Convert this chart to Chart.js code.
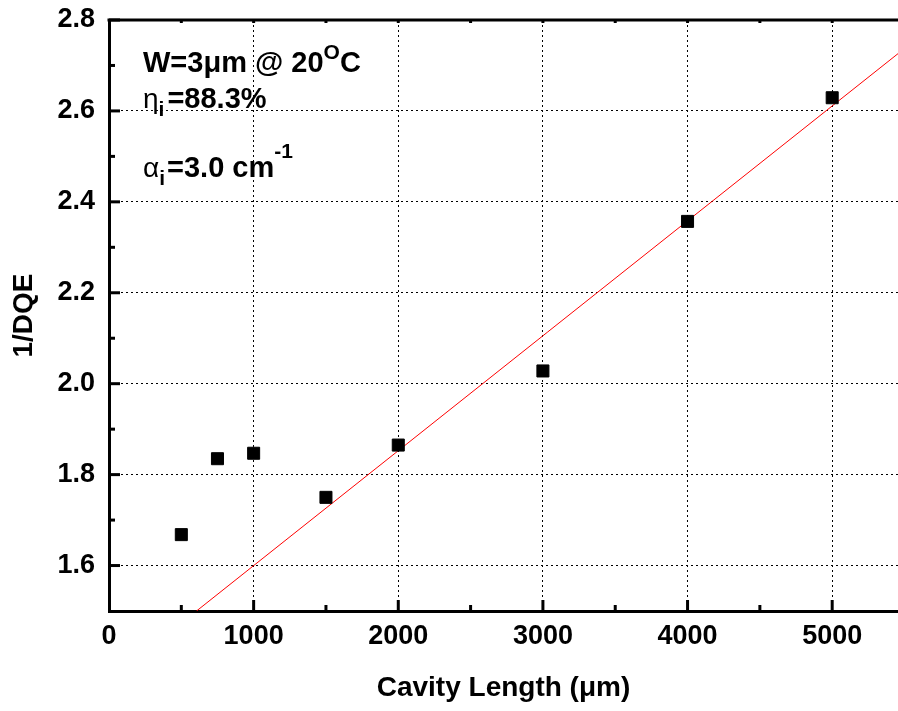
<!DOCTYPE html>
<html>
<head>
<meta charset="utf-8">
<script src="https://cdn.jsdelivr.net/npm/chart.js@4/dist/chart.umd.min.js"></script>
<style>
  html, body { margin: 0; padding: 0; background: #fff; }
  canvas { display: block; }
</style>
</head>
<body>
<canvas id="chart" width="898" height="711"></canvas>
<script>
// measured points (cavity length in um, 1/DQE)
const cavityLength = [500, 750, 1000, 1500, 2000, 3000, 4000, 5000];
const invDQE = [1.668, 1.835, 1.847, 1.75, 1.865, 2.028, 2.357, 2.629];

// linear fit, end points
const fitX = [605, 5455];
const fitY = [1.5, 2.726];

const xTicks = [0, 1000, 2000, 3000, 4000, 5000];
const xMinorTicks = [500, 1500, 2500, 3500, 4500];
const yTicks = [1.6, 1.8, 2.0, 2.2, 2.4, 2.6, 2.8];
const yMinorTicks = [1.7, 1.9, 2.1, 2.3, 2.5, 2.7];

const FONT = '"Liberation Sans", Arial, sans-serif';

// inward tick marks, top frame line and the text block
const framePlugin = {
  id: 'frame',
  afterDraw(chart) {
    const { ctx, chartArea: a, scales } = chart;
    const x = scales.x, y = scales.y;
    ctx.save();
    ctx.strokeStyle = '#000';
    ctx.lineWidth = 3;
    ctx.lineCap = 'butt';

    // top frame
    ctx.beginPath();
    ctx.moveTo(a.left - 1.5, a.top);
    ctx.lineTo(a.right, a.top);
    ctx.stroke();

    const tick = (x1, y1, x2, y2) => {
      ctx.beginPath(); ctx.moveTo(x1, y1); ctx.lineTo(x2, y2); ctx.stroke();
    };
    xTicks.slice(1).forEach(v => {
      const px = x.getPixelForValue(v);
      tick(px, a.bottom, px, a.bottom - 11);
      tick(px, a.top, px, a.top + 3);
    });
    xMinorTicks.forEach(v => {
      const px = x.getPixelForValue(v);
      tick(px, a.bottom, px, a.bottom - 6);
      tick(px, a.top, px, a.top + 3);
    });
    yTicks.forEach(v => {
      const py = y.getPixelForValue(v);
      tick(a.left, py, a.left + 11, py);
    });
    yMinorTicks.forEach(v => {
      const py = y.getPixelForValue(v);
      tick(a.left, py, a.left + 6, py);
    });

    // text block
    ctx.fillStyle = '#000';
    ctx.textBaseline = 'alphabetic';
    const runs = (x0, parts) => {
      let cx = x0;
      parts.forEach(p => {
        ctx.font = p.font;
        ctx.fillText(p.t, cx, p.y);
        cx += ctx.measureText(p.t).width + (p.gap || 0);
      });
    };
    const big = 'bold 29px ' + FONT;
    const small = 'bold 21px ' + FONT;
    const greek = '28px ' + FONT;
    const x0 = a.left + 34;
    runs(x0, [
      { t: 'W=3\u03bcm @ 20', font: big, y: 72 },
      { t: 'O', font: small, y: 59 },
      { t: 'C', font: big, y: 72 }
    ]);
    runs(x0, [
      { t: '\u03b7', font: greek, y: 108 },
      { t: 'i', font: small, y: 116, gap: 3 },
      { t: '=88.3%', font: big, y: 108 }
    ]);
    runs(x0, [
      { t: '\u03b1', font: greek, y: 177 },
      { t: 'i', font: small, y: 185, gap: 2 },
      { t: '=3.0 cm', font: big, y: 177 },
      { t: '-1', font: small, y: 158 }
    ]);
    ctx.restore();
  }
};

new Chart(document.getElementById('chart'), {
  type: 'scatter',
  data: {
    datasets: [
      {
        label: 'fit',
        data: fitX.map((v, i) => ({ x: v, y: fitY[i] })),
        showLine: true,
        borderColor: '#ff0000',
        borderWidth: 1,
        pointRadius: 0,
        order: 2
      },
      {
        label: '1/DQE',
        data: cavityLength.map((v, i) => ({ x: v, y: invDQE[i] })),
        pointStyle: 'rect',
        pointRadius: 8.5,
        pointHoverRadius: 8.5,
        backgroundColor: '#000',
        borderColor: '#000',
        borderWidth: 1,
        order: 1
      }
    ]
  },
  options: {
    responsive: false,
    animation: false,
    devicePixelRatio: 1,
    layout: { autoPadding: false, padding: { top: 20, right: 0, bottom: 0, left: 0 } },
    plugins: { legend: { display: false }, tooltip: { enabled: false } },
    scales: {
      x: {
        type: 'linear',
        min: 0,
        max: 5455,
        afterBuildTicks: s => { s.ticks = xTicks.map(v => ({ value: v })); },
        afterFit: s => { s.height = 100; s.paddingLeft = 0; s.paddingRight = 0; },
        ticks: {
          color: '#000',
          padding: 9,
          maxRotation: 0,
          callback: v => String(v),
          font: { family: FONT, size: 27, weight: 'bold' }
        },
        grid: {
          drawTicks: false,
          lineWidth: 1,
          color: c => (c.tick && c.tick.value === 0) ? 'rgba(0,0,0,0)' : '#000'
        },
        border: { display: true, width: 3, color: '#000', dash: [2, 3] },
        title: {
          display: true,
          text: 'Cavity Length (\u03bcm)',
          color: '#000',
          padding: { top: 0, bottom: 6 },
          font: { family: FONT, size: 28, weight: 'bold' }
        }
      },
      y: {
        type: 'linear',
        min: 1.5,
        max: 2.8,
        afterBuildTicks: s => { s.ticks = yTicks.map(v => ({ value: v })); },
        afterFit: s => { s.width = 109; s.paddingTop = 0; s.paddingBottom = 0; },
        ticks: {
          color: '#000',
          padding: 14,
          callback: v => v.toFixed(1),
          font: { family: FONT, size: 27, weight: 'bold' }
        },
        grid: {
          drawTicks: false,
          lineWidth: 1,
          color: c => (c.tick && c.tick.value >= 2.8) ? 'rgba(0,0,0,0)' : '#000'
        },
        border: { display: true, width: 3, color: '#000', dash: [2, 3] },
        title: {
          display: true,
          text: '1/DQE',
          color: '#000',
          padding: { top: 7, bottom: 0 },
          font: { family: FONT, size: 28, weight: 'bold' }
        }
      }
    }
  },
  plugins: [framePlugin]
});
</script>
</body>
</html>
